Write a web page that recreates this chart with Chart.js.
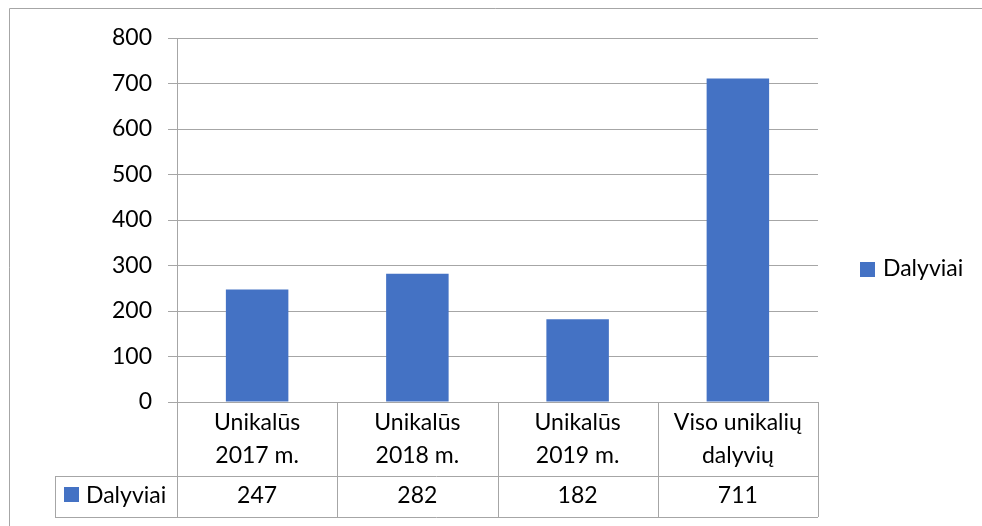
<!DOCTYPE html>
<html>
<head>
<meta charset="utf-8">
<script src="https://cdn.jsdelivr.net/npm/chart.js@4"></script>
<style>
  html, body { margin: 0; padding: 0; background: #fff; }
  #wrap { width: 982px; height: 526px; }
</style>
</head>
<body>
<div id="wrap"><canvas id="chart" width="982" height="526"></canvas></div>
<script>
// chart data
const categories = [["Unikalūs", "2017 m."], ["Unikalūs", "2018 m."], ["Unikalūs", "2019 m."], ["Viso unikalių", "dalyvių"]];
const seriesName = "Dalyviai";
const participants = [247, 282, 182, 711];
const yTicks = [0, 100, 200, 300, 400, 500, 600, 700, 800];

const BAR_COLOR = "#4472C4";
const LINE_COLOR = "#a6a6a6";
const FONT = "Lato, 'Open Sans', sans-serif";
const FONT_SIZE = 23;

// **Frame, data table and legend**
const tablePlugin = {
    id: "dataTable",
    beforeDraw(chart) {
        const ctx = chart.ctx;
        ctx.save();
        ctx.fillStyle = "#fff";
        ctx.fillRect(0, 0, chart.width, chart.height);
        ctx.strokeStyle = LINE_COLOR;
        ctx.lineWidth = 1;
        ctx.beginPath();
        ctx.moveTo(9.5, chart.height);
        ctx.lineTo(9.5, 8.5);
        ctx.lineTo(chart.width, 8.5);
        ctx.stroke();
        ctx.restore();
    },
    afterDraw(chart) {
        const ctx = chart.ctx;
        const area = chart.chartArea;
        const x = chart.scales.x;
        const colW = (area.right - area.left) / categories.length;
        const row1 = area.bottom + 74;   // bottom of category row
        const row2 = row1 + 41;          // bottom of value row
        const tableLeft = 55;

        ctx.save();
        ctx.strokeStyle = LINE_COLOR;
        ctx.lineWidth = 1;
        ctx.beginPath();
        // left axis line down through the table
        ctx.moveTo(Math.round(area.left) + 0.5, area.bottom);
        ctx.lineTo(Math.round(area.left) + 0.5, row2);
        // column separators
        for (let i = 1; i <= categories.length; i++) {
            const cx = Math.round(area.left + colW * i) + 0.5;
            ctx.moveTo(cx, area.bottom);
            ctx.lineTo(cx, row2);
        }
        // horizontal lines
        ctx.moveTo(tableLeft, row1 + 0.5);
        ctx.lineTo(area.right, row1 + 0.5);
        ctx.moveTo(tableLeft, row2 + 0.5);
        ctx.lineTo(area.right, row2 + 0.5);
        ctx.moveTo(tableLeft + 0.5, row1);
        ctx.lineTo(tableLeft + 0.5, row2);
        ctx.stroke();

        ctx.fillStyle = "#000";
        ctx.font = FONT_SIZE + "px " + FONT;
        ctx.textAlign = "center";
        ctx.textBaseline = "middle";
        categories.forEach((lines, i) => {
            const cx = x.getPixelForValue(i);
            lines.forEach((line, j) => {
                ctx.fillText(line, cx, area.bottom + 21 + j * 33);
            });
            ctx.fillText(String(participants[i]), cx, row1 + 20);
        });

        // row header in the table
        ctx.fillStyle = BAR_COLOR;
        ctx.fillRect(64, row1 + 11, 15, 15);
        ctx.fillStyle = "#000";
        ctx.textAlign = "left";
        ctx.fillText(seriesName, 86, row1 + 20);

        // legend on the right
        ctx.fillStyle = BAR_COLOR;
        ctx.fillRect(860, 262, 15, 15);
        ctx.fillStyle = "#000";
        ctx.fillText(seriesName, 883, 269);
        ctx.restore();
    }
};

const ctx = document.getElementById("chart").getContext("2d");
new Chart(ctx, {
    type: "bar",
    data: {
        labels: categories.map(c => c.join(" ")),
        datasets: [{
            label: seriesName,
            data: participants,
            backgroundColor: BAR_COLOR,
            categoryPercentage: 1,
            barPercentage: 0.39
        }]
    },
    options: {
        responsive: false,
        animation: false,
        layout: { padding: { top: 38, right: 164, bottom: 124, left: 0 } },
        plugins: {
            legend: { display: false },
            tooltip: { enabled: false }
        },
        scales: {
            x: { display: false },
            y: {
                min: 0,
                max: 800,
                afterFit(scale) { scale.width = 177; },
                afterBuildTicks(scale) { scale.ticks = yTicks.map(v => ({ value: v })); },
                ticks: {
                    color: "#000",
                    padding: 16,
                    font: { family: FONT, size: FONT_SIZE }
                },
                grid: { color: LINE_COLOR, tickLength: 9, tickColor: LINE_COLOR },
                border: { display: true, color: LINE_COLOR }
            }
        }
    },
    plugins: [tablePlugin]
});
</script>
</body>
</html>
